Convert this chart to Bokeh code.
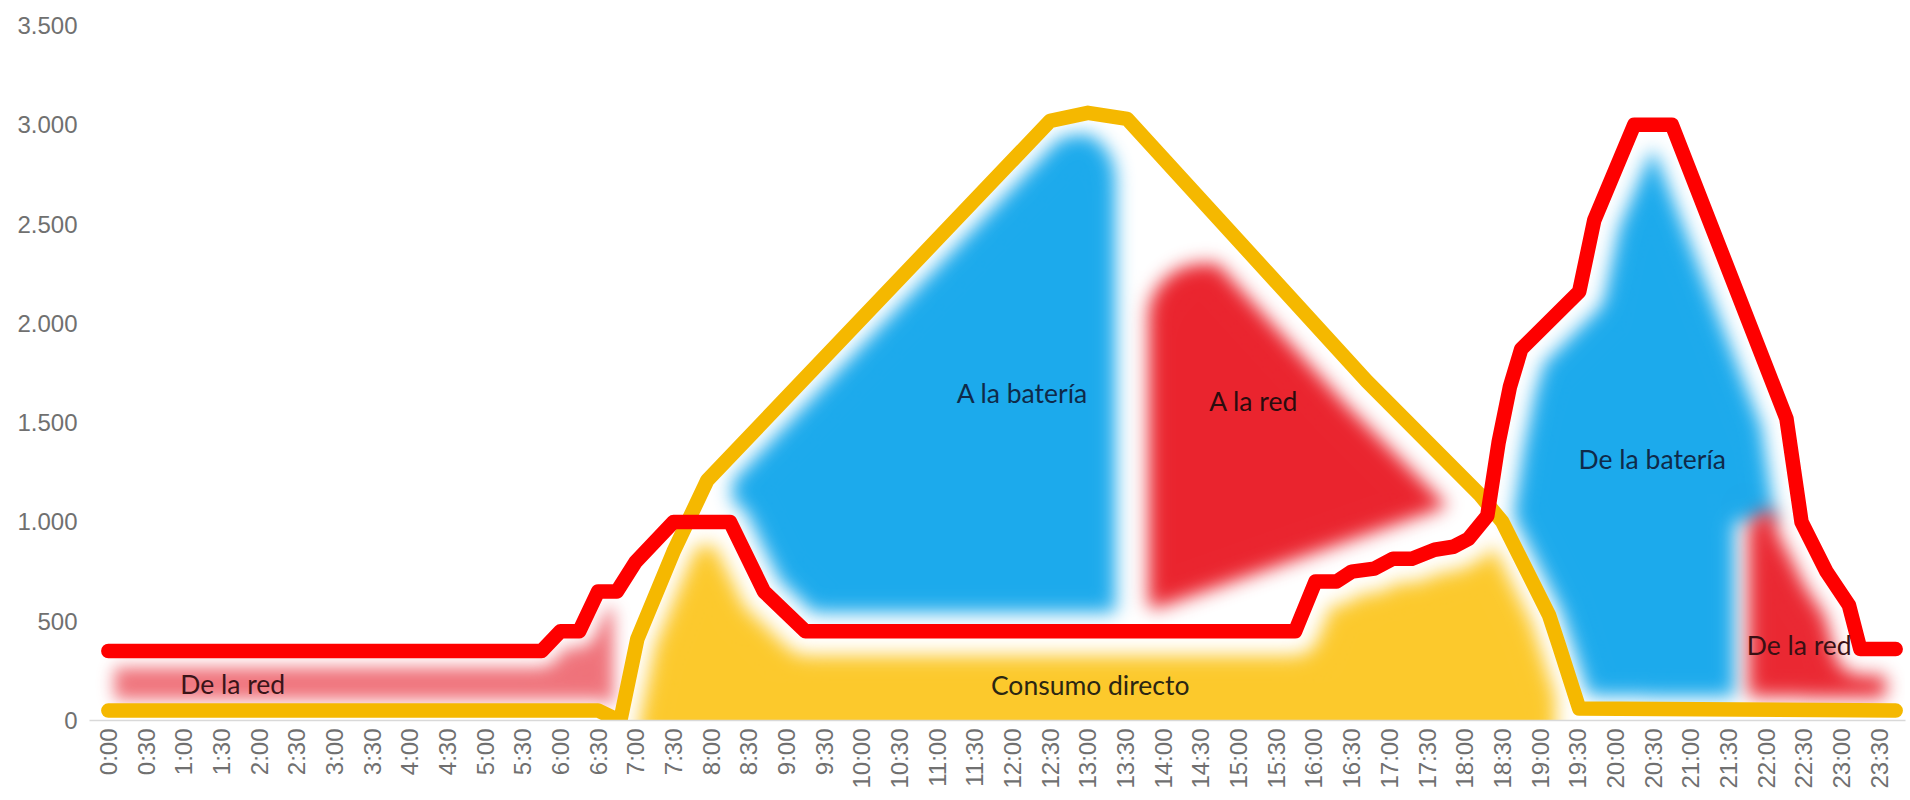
import math
import numpy as np
from bokeh.plotting import figure
from bokeh.models import Range1d, FixedTicker, ColumnDataSource
from bokeh.core.properties import value
from bokeh.embed import file_html
from bokeh.resources import INLINE

# ---------------------------------------------------------------- data
TIME_LABELS = ["0:00", "0:30", "1:00", "1:30", "2:00", "2:30", "3:00", "3:30",
               "4:00", "4:30", "5:00", "5:30", "6:00", "6:30", "7:00", "7:30",
               "8:00", "8:30", "9:00", "9:30", "10:00", "10:30", "11:00", "11:30",
               "12:00", "12:30", "13:00", "13:30", "14:00", "14:30", "15:00", "15:30",
               "16:00", "16:30", "17:00", "17:30", "18:00", "18:30", "19:00", "19:30",
               "20:00", "20:30", "21:00", "21:30", "22:00", "22:30", "23:00", "23:30"]
TIME_TICKS = [0.5 * k for k in range(len(TIME_LABELS))]  # hours

Y_TICKS = [0, 500, 1000, 1500, 2000, 2500, 3000, 3500]
Y_LABELS = ["0", "500", "1.000", "1.500", "2.000", "2.500", "3.000", "3.500"]

# household consumption (W) -- hour of day, value
CONSUMO_H = [0.0, 5.75, 6.0, 6.25, 6.5, 6.75, 7.0, 7.5, 8.25, 8.7, 9.25, 15.75,
             16.02, 16.3, 16.5, 16.8, 17.05, 17.3, 17.6, 17.85, 18.05, 18.3,
             18.45, 18.6, 18.75, 19.52, 19.72, 20.25, 20.75, 22.27, 22.47, 22.8,
             23.1, 23.25, 23.72]
CONSUMO_W = [350, 350, 450, 450, 650, 650, 800, 1000, 1000, 650, 450, 450,
             700, 700, 750, 765, 815, 815, 860, 875, 915, 1030,
             1400, 1680, 1870, 2160, 2520, 3000, 3000, 1520, 1000, 750,
             580, 360, 360]

# solar production (W)
SOLAR_H = [0.0, 6.5, 6.72, 6.8, 7.02, 7.5, 7.95, 12.5, 13.0, 13.52, 16.7,
           18.2, 18.5, 19.12, 19.25, 19.52, 23.72]
SOLAR_W = [50, 50, 10, 10, 410, 850, 1210, 3020, 3060, 3030, 1709,
           1137, 1000, 530, 380, 60, 50]

# energy-flow zones
ZONE_TEXT = ["De la red", "A la batería", "A la red", "Consumo directo",
             "De la batería", "De la red"]
ZONE_H = [1.65, 12.13, 15.2, 13.03, 20.49, 22.44]
ZONE_W = [186, 1647, 1608, 179, 1319, 378]

# ---------------------------------------------------------------- geometry
X_START, X_END = -0.25, 23.85
Y_START, Y_END = 0, 3500
FRAME_W, FRAME_H = 1816, 695
SX = FRAME_W / (X_END - X_START)   # px per hour
SY = FRAME_H / (Y_END - Y_START)   # px per W

cols = np.arange(FRAME_W, dtype=np.float64) + 0.5
rows = (np.arange(FRAME_H, dtype=np.float64) + 0.5)[:, None]
col_h = (X_START + cols / SX)[None, :]


def curve_px(hs, ws, xp):
    return np.interp(X_START + xp / SX, hs, ws) * SY


def upper_edge(hs, ws, gap):
    """Boundary kept `gap` px below the curve (disk erosion in screen space)."""
    out = np.full(FRAME_W, np.inf)
    for t in range(-gap, gap + 1):
        out = np.minimum(out, curve_px(hs, ws, cols + t) - math.sqrt(gap * gap - t * t))
    return out


def lower_edge(hs, ws, gap):
    out = np.full(FRAME_W, -np.inf)
    for t in range(-gap, gap + 1):
        out = np.maximum(out, curve_px(hs, ws, cols + t) + math.sqrt(gap * gap - t * t))
    return out


def corner_drop(h_edge, r, side):
    """Vertical drop (px) that rounds a top corner of radius r at an x-limit."""
    edge_px = (h_edge - X_START) * SX
    d = (edge_px + r - cols) if side == "left" else (cols - (edge_px - r))
    d = np.clip(d, 0, r)
    return r - np.sqrt(r * r - d * d)


def soften(m, s):
    r = int(3 * s)
    k = np.exp(-0.5 * (np.arange(-r, r + 1) / s) ** 2).astype(np.float32)
    k /= k.sum()
    a = np.pad(m, ((0, 0), (r, r)), mode="edge")
    h = np.zeros_like(m)
    for j in range(2 * r + 1):
        h += k[j] * a[:, j:j + m.shape[1]]
    a = np.pad(h, ((r, r), (0, 0)), mode="edge")
    v = np.zeros_like(m)
    for j in range(2 * r + 1):
        v += k[j] * a[j:j + m.shape[0], :]
    return v


def band(lo, hi, h0, h1):
    below = rows < hi[None, :]
    above = np.ones_like(below) if lo is None else rows > lo[None, :]
    return above & below & (col_h >= h0) & (col_h <= h1)


sol_lo = lower_edge(SOLAR_H, SOLAR_W, 13)
con_up = upper_edge(CONSUMO_H, CONSUMO_W, 26)
# sloping floor of the export patch
export_floor = np.interp(X_START + cols / SX, [13.84, 17.97], [556, 1106]) * SY

pink = band(lower_edge(SOLAR_H, SOLAR_W, 11), upper_edge(CONSUMO_H, CONSUMO_W, 16), 0.08, 6.7)
yellow = band(None, np.minimum(upper_edge(CONSUMO_H, CONSUMO_W, 24),
                               upper_edge(SOLAR_H, SOLAR_W, 19)), 6.95, 19.2)
blue_a = band(lower_edge(CONSUMO_H, CONSUMO_W, 19),
              upper_edge(SOLAR_H, SOLAR_W, 19) - corner_drop(13.36, 40, "right"), 8.28, 13.36)
red_a = band(np.maximum(lower_edge(CONSUMO_H, CONSUMO_W, 24), export_floor),
             np.minimum(upper_edge(SOLAR_H, SOLAR_W, 31), 2300 * SY - corner_drop(13.8, 55, "left")),
             13.8, 18.5)
blue_b = band(sol_lo, con_up, 18.3, 22.4) & ~((rows < 1000 * SY) & (col_h > 21.58))
red_b = band(sol_lo, np.minimum(con_up, 1060 * SY - corner_drop(21.76, 25, "left")), 21.76, 23.58)

blobs = [
    (pink, (232, 48, 60), 0.68, 8),
    (yellow, (252, 201, 44), 1.0, 9),
    (blue_a, (28, 170, 236), 1.0, 9),
    (red_a, (234, 36, 46), 1.0, 9),
    (blue_b, (28, 170, 236), 1.0, 9),
    (red_b, (234, 40, 50), 1.0, 9),
]

rgb = np.zeros((FRAME_H, FRAME_W, 3), np.float32)
alpha = np.zeros((FRAME_H, FRAME_W), np.float32)
for mask, color, amax, s in blobs:
    a = np.clip(soften(mask.astype(np.float32), s) * amax, 0, 1)
    rgb = rgb * (1 - a[..., None]) + np.array(color, np.float32) * a[..., None]
    alpha = alpha * (1 - a) + a

straight = rgb / np.maximum(alpha[..., None], 1e-4)
img = np.zeros((FRAME_H, FRAME_W), dtype=np.uint32)
view = img.view(dtype=np.uint8).reshape((FRAME_H, FRAME_W, 4))
view[..., :3] = np.clip(straight, 0, 255).astype(np.uint8)
view[..., 3] = np.clip(alpha * 255, 0, 255).astype(np.uint8)

# ---------------------------------------------------------------- figure
p = figure(width=1910, height=800,
           x_range=Range1d(X_START, X_END), y_range=Range1d(Y_START, Y_END),
           output_backend="svg", toolbar_location=None,
           min_border_left=89, min_border_right=5, min_border_top=25, min_border_bottom=80)
p.outline_line_color = None
p.grid.visible = False
p.background_fill_color = "white"
p.border_fill_color = "white"

p.image_rgba(image=[img], x=X_START, y=Y_START, dw=X_END - X_START, dh=Y_END - Y_START)

p.line(SOLAR_H, SOLAR_W, line_color="#f5b800", line_width=14.5,
       line_cap="round", line_join="round")
p.line(CONSUMO_H, CONSUMO_W, line_color="#fe0000", line_width=14.5,
       line_cap="round", line_join="round")

src = ColumnDataSource(dict(x=ZONE_H, y=ZONE_W, text=ZONE_TEXT,
                            color=["#3a1418", "#0f2a4a", "#2a0c0e", "#2b2612", "#0f2a4a", "#3a1014"]))
p.text("x", "y", text="text", source=src, text_color="color",
       text_font=value("Lato"), text_font_size="26.5px",
       text_align="center", text_baseline="middle")

xa = p.xaxis[0]
xa.ticker = FixedTicker(ticks=TIME_TICKS)
xa.major_label_overrides = dict(zip(TIME_TICKS, TIME_LABELS))
xa.major_label_orientation = math.pi / 2
xa.axis_line_color = "#d9d9d9"
xa.axis_line_width = 1.5
xa.major_tick_line_color = None
xa.minor_tick_line_color = None
xa.major_tick_out = 0
xa.major_label_standoff = 8
xa.major_label_text_font = "Liberation Sans"
xa.major_label_text_font_size = "24px"
xa.major_label_text_color = "#707070"

ya = p.yaxis[0]
ya.ticker = FixedTicker(ticks=Y_TICKS)
ya.major_label_overrides = dict(zip(Y_TICKS, Y_LABELS))
ya.axis_line_color = None
ya.major_tick_line_color = None
ya.minor_tick_line_color = None
ya.major_tick_out = 0
ya.major_label_standoff = 12
ya.major_label_text_font = "Liberation Sans"
ya.major_label_text_font_size = "24px"
ya.major_label_text_color = "#707070"

open("out.html", "w").write(file_html(p, INLINE))
